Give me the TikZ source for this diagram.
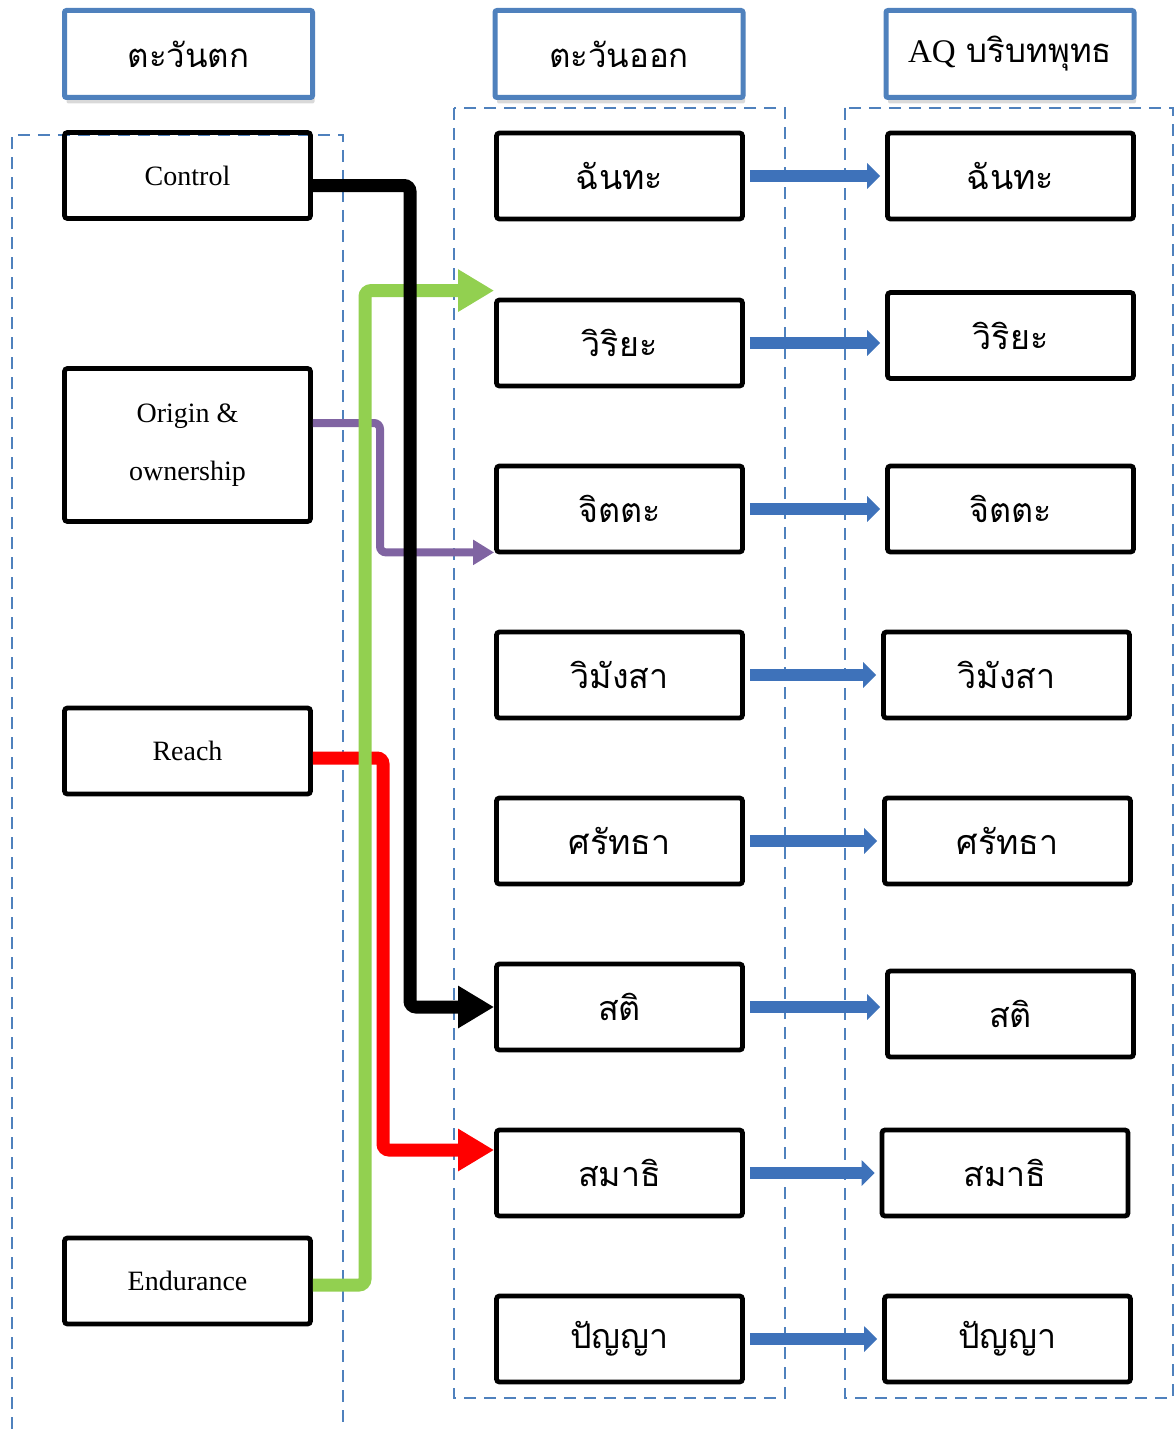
\documentclass[tikz,border=0pt]{standalone}
\usepackage{fontspec}
\setmainfont{Liberation Serif}
\newfontfamily\thaifont[Script=Thai]{Loma}
\newfontfamily\latinfont{Liberation Serif}
\usetikzlibrary{arrows.meta,calc,shadows}
\definecolor{hdrblue}{RGB}{79,129,189}
\definecolor{arrblue}{RGB}{62,114,186}
\definecolor{cgreen}{RGB}{146,208,80}
\definecolor{cpurple}{RGB}{128,100,162}
\definecolor{cred}{RGB}{255,0,0}
\begin{document}
\begin{tikzpicture}[x=0.5pt,y=-0.5pt,
  hdr/.style={draw=hdrblue,line width=2.5pt,fill=white,rounded corners=1pt,
    minimum width=124pt,minimum height=43.5pt,inner sep=0pt,
    drop shadow={shadow xshift=1pt,shadow yshift=-3pt,opacity=0.3},
    font=\thaifont\fontsize{16.5}{20}\selectfont},
  lbox/.style={draw=black,line width=2.4pt,rounded corners=1.5pt,
    minimum width=123pt,minimum height=43pt,inner sep=0pt,
    font=\latinfont\fontsize{14}{29}\selectfont,align=center},
  tbox/.style={draw=black,line width=2.4pt,rounded corners=1.5pt,
    minimum width=123pt,minimum height=43pt,inner sep=0pt,
    font=\thaifont\fontsize{17}{20}\selectfont},
  cont/.style={draw=hdrblue,line width=0.8pt,dash pattern=on 6pt off 4pt},
  conn/.style={line width=6.5pt,rounded corners=3pt,
    -{Triangle[length=18pt,width=20pt]}},
  bluearr/.style={draw=arrblue,line width=6pt,
    -{Triangle[length=6.5pt,width=12.5pt]},shorten <=2.5pt,shorten >=2.5pt}
]
\useasboundingbox (0,0) rectangle (1175,1429);

% containers
\draw[cont] (12,1429) -- (12,135) -- (343,135) -- (343,1429);
\draw[cont] (454,108) rectangle (785,1398);
\draw[cont] (845,108) rectangle (1173,1398);

% headers
\node[hdr] (hw) at (188.5,54) {ตะวันตก};
\node[hdr] (he) at (619,54) {ตะวันออก};
\node[hdr] (ha) at (1010,54) {{\latinfont AQ} บริบทพุทธ};

% left boxes
\node[lbox] (control) at (187.5,175.5) {Control};
\node[lbox,minimum height=76.5pt] (origin) at (187.5,445) {Origin \&\\ownership};
\node[lbox] (reach) at (187.5,751) {Reach};
\node[lbox] (endurance) at (187.5,1281) {Endurance};

% middle boxes
\node[tbox] (m1) at (619.5,176) {ฉันทะ};
\node[tbox] (m2) at (619.5,343) {วิริยะ};
\node[tbox] (m3) at (619.5,509) {จิตตะ};
\node[tbox] (m4) at (619.5,675) {วิมังสา};
\node[tbox] (m5) at (619.5,841) {ศรัทธา};
\node[tbox] (m6) at (619.5,1007) {สติ};
\node[tbox] (m7) at (619.5,1173) {สมาธิ};
\node[tbox] (m8) at (619.5,1339) {ปัญญา};

% right boxes
\node[tbox] (r1) at (1010.5,176) {ฉันทะ};
\node[tbox] (r2) at (1010.5,335.5) {วิริยะ};
\node[tbox] (r3) at (1010.5,509) {จิตตะ};
\node[tbox] (r4) at (1006.5,675) {วิมังสา};
\node[tbox] (r5) at (1007.5,841) {ศรัทธา};
\node[tbox] (r6) at (1010.5,1014) {สติ};
\node[tbox] (r7) at (1005,1173) {สมาธิ};
\node[tbox] (r8) at (1007.5,1339) {ปัญญา};

% blue arrows
\foreach \i in {1,...,8}{
  \draw[bluearr] (m\i.east) -- (m\i.east -| r\i.west);
}

% connector bend coordinates
\coordinate (px) at (380,0);
\coordinate (rx) at (383,0);
\coordinate (gx) at (365,0);
\coordinate (bx) at (410,0);

% purple
\draw[conn,draw=cpurple,line width=4pt,
  -{Triangle[length=10.5pt,width=12pt]}]
  ($(origin.east)+(0,-22)$) -| ($(px |- m3.south west)+(0,-2)$) -- ($(m3.south west)+(0,-2)$);
% red
\draw[conn,draw=cred]
  ($(reach.east)+(0,7)$) -| ($(rx |- m7.west)+(0,-23)$) -- ($(m7.west)+(0,-23)$);
% green
\draw[conn,draw=cgreen]
  ($(endurance.east)+(0,4)$) -| ($(gx |- m2.north west)+(0,-7)$) -- ($(m2.north west)+(0,-7)$);
% black
\draw[conn,draw=black]
  ($(control.east)+(0,10)$) -| (bx |- m6.west) -- (m6.west);
\end{tikzpicture}
\end{document}
